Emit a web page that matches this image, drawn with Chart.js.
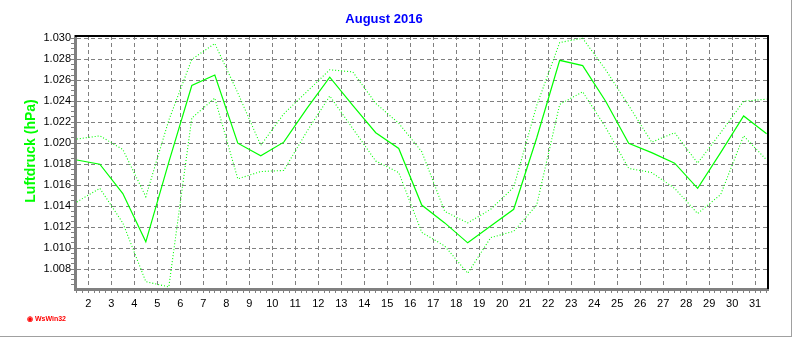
<!DOCTYPE html>
<html>
<head>
<meta charset="utf-8">
<title>Luftdruck August 2016</title>
<script src="https://cdn.jsdelivr.net/npm/chart.js@4.4.0/dist/chart.umd.min.js"></script>
<style>
html,body{margin:0;padding:0;background:#fff;}
#wrap{position:relative;width:791px;height:336px;border-right:1px solid #a0a0a0;border-bottom:1px solid #a0a0a0;}
#chart{display:block;}
#logo{position:absolute;left:27px;top:314px;font:bold 7px "Liberation Sans",Arial,sans-serif;line-height:9px;color:#ff0000;white-space:nowrap;}
</style>
</head>
<body>
<div id="wrap">
  <canvas id="chart" width="791" height="336"></canvas>
  <div id="logo">&#9673; WsWin32</div>
</div>
<script>
// Luftdruck (hPa) - daily values August 2016
var days = [1,2,3,4,5,6,7,8,9,10,11,12,13,14,15,16,17,18,19,20,21,22,23,24,25,26,27,28,29,30,31];
var luftMittel = [1.0184,1.0180,1.0152,1.0106,1.0182,1.0255,1.0265,1.0200,1.0188,1.0201,1.0233,1.0263,1.0236,1.0210,1.0195,1.0141,
                  1.0124,1.0105,1.0121,1.0137,1.0205,1.0279,1.0274,1.0240,1.0200,1.0191,1.0181,1.0157,1.0191,1.0226,1.0209];
var luftMax = [1.0204,1.0207,1.0194,1.0149,1.0222,1.0280,1.0295,1.0248,1.0198,1.0228,1.0249,1.0270,1.0268,1.0238,1.0219,1.0192,
               1.0135,1.0124,1.0137,1.0158,1.0236,1.0296,1.0300,1.0270,1.0236,1.0201,1.0210,1.0181,1.0210,1.0240,1.0242];
var luftMin = [1.0144,1.0157,1.0124,1.0068,1.0063,1.0224,1.0243,1.0166,1.0173,1.0174,1.0211,1.0245,1.0214,1.0183,1.0172,1.0115,
               1.0102,1.0076,1.0110,1.0116,1.0141,1.0237,1.0249,1.0215,1.0176,1.0172,1.0157,1.0133,1.0151,1.0207,1.0184];
var xTickLabels = ['2','3','4','5','6','7','8','9','10','11','12','13','14','15','16','17','18','19','20','21','22','23','24','25','26','27','28','29','30','31'];
var yTickLabels = ['1.008','1.010','1.012','1.014','1.016','1.018','1.020','1.022','1.024','1.026','1.028','1.030'];

var GRID = '#808080';
var GREEN = '#00ff00';
Chart.defaults.font.family = '"Liberation Sans", Arial, sans-serif';

// values are daily means, plotted at noon of each day
function toPoints(vals){
  return days.map(function(d, i){ return {x: d + 0.5, y: vals[i]}; });
}

// black frame top/right + y axis title
var framePlugin = {
  id: 'frame',
  afterDraw: function(chart){
    var a = chart.chartArea, ctx = chart.ctx;
    ctx.save();
    ctx.strokeStyle = '#000';
    ctx.lineWidth = 2;
    ctx.beginPath();
    ctx.moveTo(a.left, a.top);
    ctx.lineTo(a.right, a.top);
    ctx.lineTo(a.right, a.bottom);
    ctx.stroke();
    ctx.translate(31, 151);
    ctx.rotate(-Math.PI / 2);
    ctx.font = 'bold 14px "Liberation Sans", Arial, sans-serif';
    ctx.fillStyle = GREEN;
    ctx.textAlign = 'center';
    ctx.textBaseline = 'middle';
    ctx.fillText('Luftdruck (hPa)', 0, 0);
    ctx.restore();
  }
};

new Chart(document.getElementById('chart').getContext('2d'), {
  type: 'line',
  data: {
    datasets: [
      {label: 'Max', data: toPoints(luftMax), borderColor: GREEN, borderWidth: 1.1, borderDash: [1, 2], pointRadius: 0, fill: false},
      {label: 'Min', data: toPoints(luftMin), borderColor: GREEN, borderWidth: 1.1, borderDash: [1, 2], pointRadius: 0, fill: false},
      {label: 'Mittel', data: toPoints(luftMittel), borderColor: GREEN, borderWidth: 1.2, pointRadius: 0, fill: false}
    ]
  },
  options: {
    responsive: false,
    animation: false,
    layout: {padding: {left: 0, right: 23, top: 0, bottom: 0}},
    plugins: {
      legend: {display: false},
      tooltip: {enabled: false},
      title: {
        display: true,
        text: 'August 2016',
        color: '#0000ff',
        font: {size: 13, weight: 'bold'},
        padding: {top: 12, bottom: 8.4}
      }
    },
    scales: {
      x: {
        type: 'linear',
        min: 1.42,
        max: 31.56,
        afterBuildTicks: function(s){
          // 6h steps, label only on whole days
          var t = [];
          for (var q = 6; q <= 126; q++) {
            var v = q / 4;
            t.push({value: v, lbl: (q % 4 === 0) ? xTickLabels[xTickLabels.indexOf(String(v))] : ''});
          }
          s.ticks = t;
        },
        afterFit: function(s){ s.height = 47; },
        ticks: {
          autoSkip: false, maxRotation: 0, minRotation: 0, padding: 4,
          color: '#000', font: {size: 11},
          callback: function(v, i, t){ return t[i].lbl || ''; }
        },
        grid: {
          color: function(c){ return (c.tick && c.tick.lbl) ? GRID : 'rgba(0,0,0,0)'; },
          tickColor: GRID,
          tickLength: 4,
          lineWidth: 1
        },
        border: {color: GRID, width: 3, dash: [4, 3]}
      },
      y: {
        type: 'linear',
        min: 1.0061,
        max: 1.03022,
        afterBuildTicks: function(s){
          var t = [];
          for (var k = 13; k <= 60; k++) {
            var v = 1 + k * 0.0005;
            var lbl = '';
            yTickLabels.forEach(function(l){ if (Math.abs(parseFloat(l) - v) < 1e-7) lbl = l; });
            t.push({value: v, lbl: lbl});
          }
          s.ticks = t;
        },
        afterFit: function(s){ s.width = 75; },
        ticks: {
          autoSkip: false, padding: 0,
          color: '#000', font: {size: 11},
          callback: function(v, i, t){ return t[i].lbl || ''; }
        },
        grid: {
          color: function(c){ return (c.tick && c.tick.lbl) ? GRID : 'rgba(0,0,0,0)'; },
          tickColor: GRID,
          tickLength: 4,
          lineWidth: 1
        },
        border: {color: GRID, width: 3, dash: [4, 3]}
      }
    }
  },
  plugins: [framePlugin]
});
</script>
</body>
</html>
